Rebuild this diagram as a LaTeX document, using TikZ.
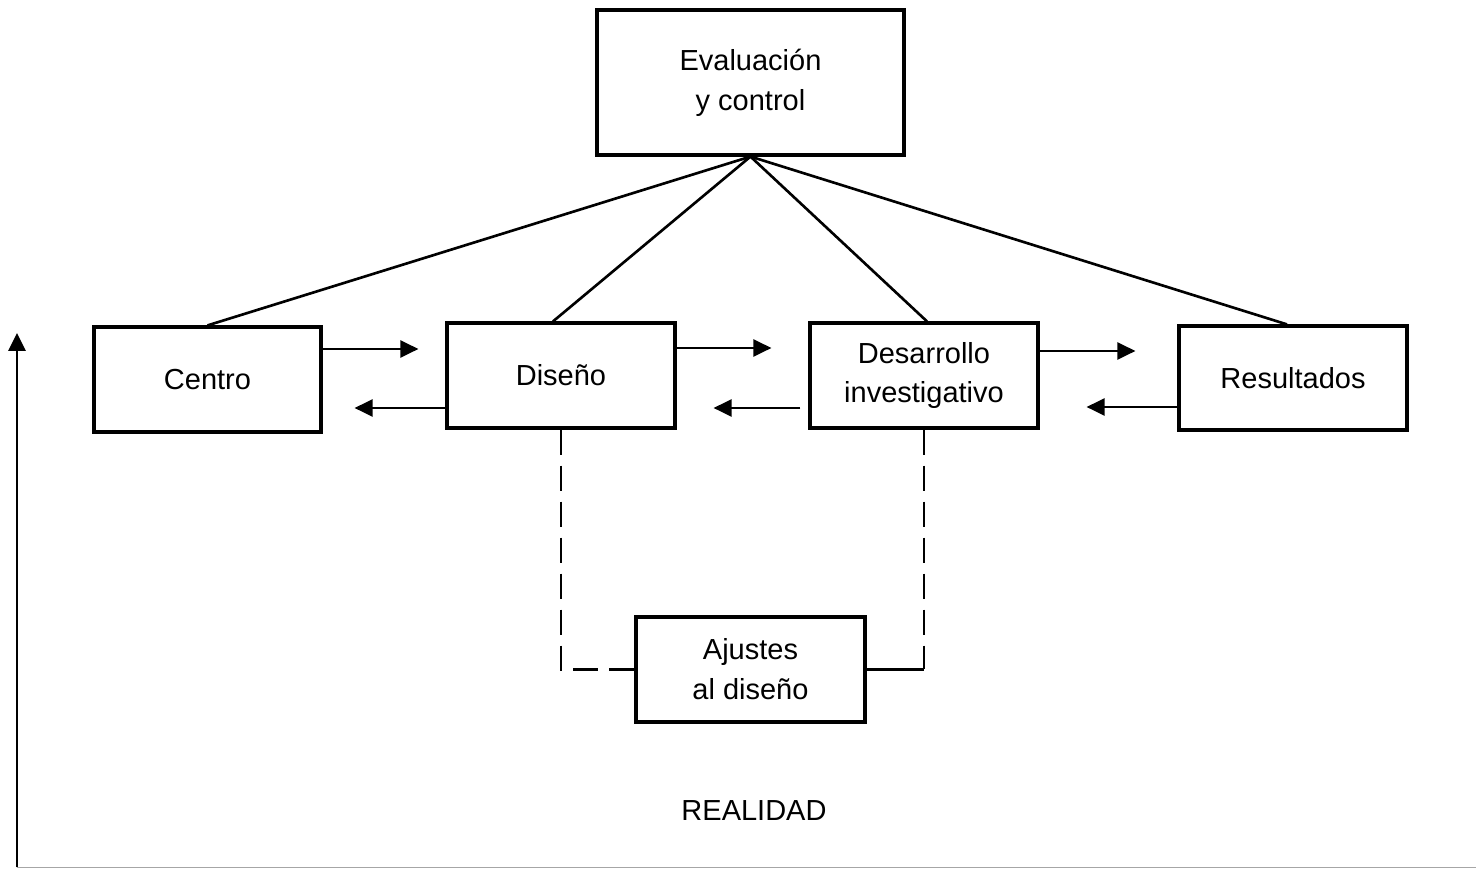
\documentclass[tikz,border=0pt]{standalone}
\usepackage{fontspec}
\setmainfont{Liberation Sans}
\usepackage{xcolor}
\usepackage{tikz}
\usetikzlibrary{arrows.meta, calc, positioning}

\tikzset{
    caja/.style={draw, line width=1.8pt, minimum width=4.56cm, minimum height=2.1cm,
        inner sep=0pt, align=center, font=\fontsize{16.5}{22.7}\selectfont},
    flujo/.style={line width=1.3pt, -{Triangle[length=0.36cm, width=0.34cm]}},
    enlace/.style={line width=1.5pt},
    ajuste/.style={line width=1.5pt, dash pattern=on 0.5cm off 0.22cm}
}

\begin{document}
\begin{tikzpicture}
\useasboundingbox (0,0) rectangle (29.52,17.38);

\node[caja, minimum width=6.14cm, minimum height=2.9cm] (eval) at (15.01,15.73)
    {Evaluación\\y control};
\node[caja, minimum width=4.54cm] (centro) at (4.15,9.79) {Centro};
\node[caja] (diseno) at (11.22,9.87) {Diseño};
\node[caja] (desarrollo) at (18.48,9.87) {Desarrollo\\investigativo};
\node[caja, minimum height=2.08cm] (resultados) at (25.86,9.82) {Resultados};
\node[caja, minimum width=4.58cm] (ajustes) at (15.01,3.99) {Ajustes\\al diseño};
\node[font=\fontsize{16.5}{22.7}\selectfont] (realidad) at (15.08,1.16) {REALIDAD};

% lineas desde evaluacion
\draw[enlace] (eval.south) -- (centro.north);
\draw[enlace] (eval.south) -- ([xshift=-0.16cm]diseno.north);
\draw[enlace] (eval.south) -- ([xshift=0.06cm]desarrollo.north);
\draw[enlace] (eval.south) -- ([xshift=-0.12cm]resultados.north);

% flechas entre cajas
\coordinate (a1) at (centro.east |- 0,10.40);
\coordinate (a2) at (diseno.west |- 0,9.22);
\coordinate (a3) at (diseno.east |- 0,10.42);
\coordinate (a4) at (desarrollo.west |- 0,9.22);
\coordinate (a5) at (desarrollo.east |- 0,10.36);
\coordinate (a6) at (resultados.west |- 0,9.24);
\draw[flujo, shorten >=0.54cm] (a1) -- (a1 -| diseno.west);
\draw[flujo, shorten >=0.64cm] (a2) -- (a2 -| centro.east);
\draw[flujo, shorten >=0.74cm] (a3) -- (a3 -| desarrollo.west);
\draw[flujo, shorten <=0.16cm, shorten >=0.74cm] (a4) -- (a4 -| diseno.east);
\draw[flujo, shorten >=0.84cm] (a5) -- (a5 -| resultados.west);
\draw[flujo, shorten >=0.94cm] (a6) -- (a6 -| desarrollo.east);

% ajustes
\draw[ajuste] (diseno.south) |- (ajustes.west);
\draw[ajuste] (desarrollo.south) -- (desarrollo.south |- ajustes.east);
\draw[ajuste, solid] (ajustes.east) -- (ajustes.east -| desarrollo.south);

% ejes
\coordinate (origen) at (0.34,0.03);
\coordinate (tope) at (0.34,10.72);
\coordinate (fin) at (29.52,0.03);
\draw[line width=1.7pt, -{Triangle[length=0.36cm, width=0.34cm]}] (origen) -- (tope);
\draw[gray!70, line width=0.9pt] (origen) -- (fin);
\end{tikzpicture}
\end{document}
